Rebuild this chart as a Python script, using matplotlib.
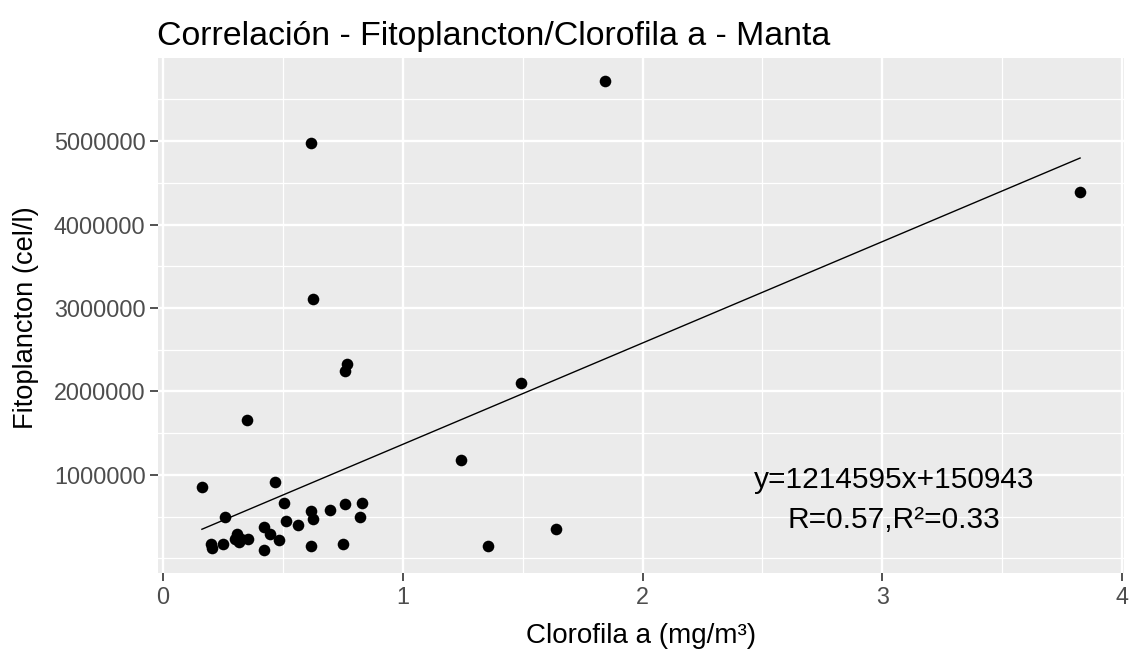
import matplotlib
matplotlib.use("Agg")
import matplotlib.pyplot as plt
import numpy as np
from matplotlib.ticker import FixedLocator, FuncFormatter

# clorofila a (mg/m3) y fitoplancton (cel/l)
clorofila = [0.162, 0.352, 0.467, 0.506, 0.257, 0.617, 0.625, 0.696, 0.757,
             0.828, 0.821, 0.513, 0.562, 0.423, 0.444, 0.484, 0.422, 0.617,
             0.749, 0.250, 0.201, 0.204, 0.309, 0.323, 0.315, 0.354, 0.298,
             1.845, 0.617, 0.625, 0.766, 0.757, 1.494, 1.244, 3.825, 1.641,
             1.355]
fitoplancton = [853000, 1657000, 912000, 665000, 494000, 562000, 470000,
                582000, 646000, 665000, 491000, 443000, 399000, 379000,
                291000, 216000, 104000, 152000, 176000, 176000, 168000,
                121000, 295000, 235000, 196000, 235000, 235000, 5715000,
                4976000, 3110000, 2334000, 2240000, 2103000, 1183000,
                4390000, 352000, 145000]

pendiente = 1214595
intercepto = 150943
r_valor = 0.57
r2_valor = 0.33

x_ticks = [0, 1, 2, 3, 4]
x_minor = [0.5, 1.5, 2.5, 3.5]
y_ticks = [1000000, 2000000, 3000000, 4000000, 5000000]
y_minor = [0, 500000, 1500000, 2500000, 3500000, 4500000, 5500000]

fuente = "Liberation Sans"

fig = plt.figure(figsize=(11.32, 6.49), dpi=100)
ax = fig.add_axes([158 / 1132, 1 - 573 / 649, (1124 - 158) / 1132, (573 - 58) / 649])
ax.set_facecolor("#EBEBEB")
for s in ax.spines.values():
    s.set_visible(False)

ax.xaxis.set_major_locator(FixedLocator(x_ticks))
ax.xaxis.set_minor_locator(FixedLocator(x_minor))
ax.yaxis.set_major_locator(FixedLocator(y_ticks))
ax.yaxis.set_minor_locator(FixedLocator(y_minor))
ax.yaxis.set_major_formatter(FuncFormatter(lambda v, p: "%d" % v))
ax.grid(which="major", color="white", lw=1.7)
ax.grid(which="minor", color="white", lw=0.9)
ax.set_axisbelow(True)
ax.tick_params(which="minor", length=0)
ax.tick_params(which="major", length=5.5, width=1.2, color="#333333",
               labelcolor="#4D4D4D", labelsize=16.8, pad=3.5)
for lab in ax.get_xticklabels() + ax.get_yticklabels():
    lab.set_fontfamily(fuente)

xs = np.array([min(clorofila), max(clorofila)])
ax.plot(xs, pendiente * xs + intercepto, color="black", lw=1.0, zorder=2)
ax.scatter(clorofila, fitoplancton, s=70, color="black", zorder=3, lw=0)

rng_x = max(clorofila) - min(clorofila)
rng_y = max(fitoplancton) - min(fitoplancton)
ax.set_xlim(min(clorofila) - 0.05 * rng_x, max(clorofila) + 0.05 * rng_x)
ax.set_ylim(min(fitoplancton) - 0.05 * rng_y, max(fitoplancton) + 0.05 * rng_y)

ax.text(3.05, 936000, "y=%dx+%d" % (pendiente, intercepto), ha="center",
        va="center", fontsize=21.5, family=fuente)
ax.text(3.05, 460000, "R=%.2f,R²=%.2f" % (r_valor, r2_valor), ha="center",
        va="center", fontsize=21.5, family=fuente)

fig.text(641 / 1132, 1 - 636 / 649, "Clorofila a (mg/m³)", fontsize=20,
         family=fuente, ha="center", va="center")
fig.text(26 / 1132, 1 - 318 / 649, "Fitoplancton (cel/l)", fontsize=19.6,
         family=fuente, ha="center", va="center", rotation=90)
fig.text(157 / 1132, 1 - 37 / 649, "Correlación - Fitoplancton/Clorofila a - Manta",
         fontsize=24.4, family=fuente, va="center", ha="left")

fig.savefig("out.png", dpi=100, facecolor="white")
